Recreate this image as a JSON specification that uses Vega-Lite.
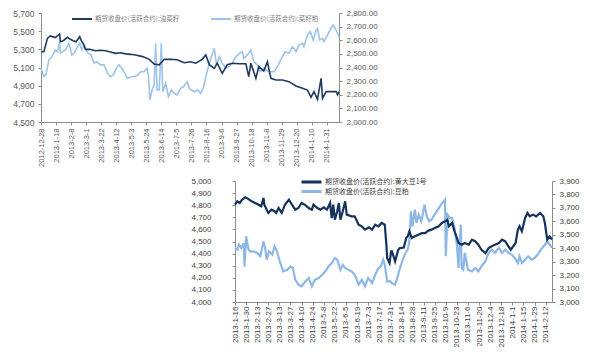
{
  "$schema": "https://vega.github.io/schema/vega-lite/v6.json",
  "background": "white",
  "padding": {"left": 12, "top": 9, "right": 5, "bottom": 5},
  "spacing": 10,
  "resolve": {"scale": {"color": "independent"}},
  "config": {
    "view": {"stroke": null},
    "axis": {
      "labelFont": "Liberation Sans",
      "labelFontSize": 8,
      "labelColor": "#595959",
      "domainColor": "#8c8c8c",
      "tickColor": "#8c8c8c",
      "tickSize": 3,
      "grid": false,
      "title": null
    },
    "legend": {
      "labelFont": "Noto Sans CJK SC",
      "labelColor": "#404040",
      "title": null
    }
  },
  "datasets": {
    "rs": [
      {"date": "2012-12-28", "price": 5274}, {"date": "2013-01-01", "price": 5274}, {"date": "2013-01-06", "price": 5421},
      {"date": "2013-01-10", "price": 5447}, {"date": "2013-01-13", "price": 5440}, {"date": "2013-01-17", "price": 5430},
      {"date": "2013-01-23", "price": 5469}, {"date": "2013-01-24", "price": 5384}, {"date": "2013-01-28", "price": 5395},
      {"date": "2013-02-03", "price": 5432}, {"date": "2013-02-07", "price": 5410}, {"date": "2013-02-11", "price": 5395},
      {"date": "2013-02-15", "price": 5384}, {"date": "2013-02-20", "price": 5439}, {"date": "2013-02-22", "price": 5400},
      {"date": "2013-02-26", "price": 5348}, {"date": "2013-02-28", "price": 5300}, {"date": "2013-03-06", "price": 5300},
      {"date": "2013-03-14", "price": 5285}, {"date": "2013-03-21", "price": 5290}, {"date": "2013-03-28", "price": 5285},
      {"date": "2013-04-04", "price": 5270}, {"date": "2013-04-11", "price": 5256}, {"date": "2013-04-18", "price": 5262},
      {"date": "2013-04-25", "price": 5250}, {"date": "2013-05-02", "price": 5245}, {"date": "2013-05-09", "price": 5238},
      {"date": "2013-05-19", "price": 5220}, {"date": "2013-05-28", "price": 5190}, {"date": "2013-06-04", "price": 5138},
      {"date": "2013-06-11", "price": 5130}, {"date": "2013-06-18", "price": 5190}, {"date": "2013-06-27", "price": 5190},
      {"date": "2013-07-06", "price": 5185}, {"date": "2013-07-16", "price": 5153}, {"date": "2013-07-25", "price": 5163},
      {"date": "2013-08-01", "price": 5147}, {"date": "2013-08-10", "price": 5190}, {"date": "2013-08-15", "price": 5238},
      {"date": "2013-08-20", "price": 5130}, {"date": "2013-08-27", "price": 5091}, {"date": "2013-08-31", "price": 5147},
      {"date": "2013-09-07", "price": 5036}, {"date": "2013-09-14", "price": 5130}, {"date": "2013-09-21", "price": 5147},
      {"date": "2013-10-01", "price": 5141}, {"date": "2013-10-10", "price": 5141}, {"date": "2013-10-14", "price": 4999},
      {"date": "2013-10-17", "price": 5147}, {"date": "2013-10-24", "price": 4981}, {"date": "2013-10-28", "price": 5110},
      {"date": "2013-11-04", "price": 5060}, {"date": "2013-11-09", "price": 5163}, {"date": "2013-11-14", "price": 4981},
      {"date": "2013-11-21", "price": 4962}, {"date": "2013-11-30", "price": 4962}, {"date": "2013-12-09", "price": 4944},
      {"date": "2013-12-19", "price": 4896}, {"date": "2013-12-28", "price": 4871}, {"date": "2014-01-04", "price": 4852},
      {"date": "2014-01-09", "price": 4772}, {"date": "2014-01-13", "price": 4834}, {"date": "2014-01-18", "price": 4750},
      {"date": "2014-01-23", "price": 4981}, {"date": "2014-01-25", "price": 4760}, {"date": "2014-01-30", "price": 4834},
      {"date": "2014-02-06", "price": 4834}, {"date": "2014-02-13", "price": 4834}, {"date": "2014-02-15", "price": 4800},
      {"date": "2014-02-17", "price": 4834}
    ],
    "rm": [
      {"date": "2012-12-28", "price": 2394}, {"date": "2013-01-01", "price": 2332}, {"date": "2013-01-04", "price": 2350},
      {"date": "2013-01-08", "price": 2455}, {"date": "2013-01-12", "price": 2479}, {"date": "2013-01-17", "price": 2528},
      {"date": "2013-01-20", "price": 2516}, {"date": "2013-01-23", "price": 2589}, {"date": "2013-01-24", "price": 2504},
      {"date": "2013-01-31", "price": 2528}, {"date": "2013-02-05", "price": 2577}, {"date": "2013-02-09", "price": 2492},
      {"date": "2013-02-12", "price": 2504}, {"date": "2013-02-17", "price": 2553}, {"date": "2013-02-20", "price": 2577},
      {"date": "2013-02-23", "price": 2528}, {"date": "2013-02-26", "price": 2565}, {"date": "2013-03-03", "price": 2509},
      {"date": "2013-03-08", "price": 2492}, {"date": "2013-03-12", "price": 2431}, {"date": "2013-03-16", "price": 2443},
      {"date": "2013-03-21", "price": 2419}, {"date": "2013-03-26", "price": 2419}, {"date": "2013-03-31", "price": 2357},
      {"date": "2013-04-04", "price": 2332}, {"date": "2013-04-08", "price": 2345}, {"date": "2013-04-12", "price": 2394},
      {"date": "2013-04-16", "price": 2419}, {"date": "2013-04-20", "price": 2394}, {"date": "2013-04-24", "price": 2357},
      {"date": "2013-04-28", "price": 2320}, {"date": "2013-05-03", "price": 2332}, {"date": "2013-05-07", "price": 2332},
      {"date": "2013-05-12", "price": 2345}, {"date": "2013-05-16", "price": 2369}, {"date": "2013-05-21", "price": 2369},
      {"date": "2013-05-25", "price": 2394}, {"date": "2013-05-27", "price": 2345}, {"date": "2013-05-29", "price": 2161},
      {"date": "2013-06-01", "price": 2235}, {"date": "2013-06-04", "price": 2272}, {"date": "2013-06-06", "price": 2578},
      {"date": "2013-06-08", "price": 2235}, {"date": "2013-06-11", "price": 2235}, {"date": "2013-06-14", "price": 2578},
      {"date": "2013-06-16", "price": 2222}, {"date": "2013-06-20", "price": 2284}, {"date": "2013-06-24", "price": 2186},
      {"date": "2013-06-28", "price": 2235}, {"date": "2013-07-02", "price": 2210}, {"date": "2013-07-06", "price": 2198},
      {"date": "2013-07-11", "price": 2247}, {"date": "2013-07-15", "price": 2259}, {"date": "2013-07-20", "price": 2296},
      {"date": "2013-07-23", "price": 2247}, {"date": "2013-07-26", "price": 2235}, {"date": "2013-07-30", "price": 2222},
      {"date": "2013-08-04", "price": 2235}, {"date": "2013-08-08", "price": 2210}, {"date": "2013-08-12", "price": 2259},
      {"date": "2013-08-15", "price": 2332}, {"date": "2013-08-20", "price": 2431}, {"date": "2013-08-23", "price": 2479},
      {"date": "2013-08-27", "price": 2541}, {"date": "2013-08-30", "price": 2419}, {"date": "2013-09-03", "price": 2479},
      {"date": "2013-09-07", "price": 2431}, {"date": "2013-09-12", "price": 2394}, {"date": "2013-09-16", "price": 2406},
      {"date": "2013-09-21", "price": 2431}, {"date": "2013-09-26", "price": 2479}, {"date": "2013-10-01", "price": 2504},
      {"date": "2013-10-05", "price": 2516}, {"date": "2013-10-07", "price": 2467}, {"date": "2013-10-12", "price": 2492},
      {"date": "2013-10-17", "price": 2528}, {"date": "2013-10-21", "price": 2443}, {"date": "2013-10-26", "price": 2419},
      {"date": "2013-10-30", "price": 2369}, {"date": "2013-11-04", "price": 2394}, {"date": "2013-11-11", "price": 2369},
      {"date": "2013-11-18", "price": 2369}, {"date": "2013-11-23", "price": 2406}, {"date": "2013-11-30", "price": 2479},
      {"date": "2013-12-04", "price": 2516}, {"date": "2013-12-09", "price": 2504}, {"date": "2013-12-14", "price": 2553},
      {"date": "2013-12-19", "price": 2516}, {"date": "2013-12-23", "price": 2565}, {"date": "2013-12-28", "price": 2577},
      {"date": "2013-12-30", "price": 2553}, {"date": "2014-01-04", "price": 2639}, {"date": "2014-01-08", "price": 2663},
      {"date": "2014-01-12", "price": 2602}, {"date": "2014-01-16", "price": 2675}, {"date": "2014-01-18", "price": 2688},
      {"date": "2014-01-21", "price": 2602}, {"date": "2014-01-25", "price": 2614}, {"date": "2014-01-27", "price": 2590},
      {"date": "2014-02-01", "price": 2639}, {"date": "2014-02-06", "price": 2688}, {"date": "2014-02-09", "price": 2712},
      {"date": "2014-02-13", "price": 2675}, {"date": "2014-02-17", "price": 2626}
    ],
    "a1": [
      {"date": "2013-01-16", "price": 4804}, {"date": "2013-01-19", "price": 4832}, {"date": "2013-01-22", "price": 4818},
      {"date": "2013-01-25", "price": 4846}, {"date": "2013-01-29", "price": 4865}, {"date": "2013-02-02", "price": 4850},
      {"date": "2013-02-06", "price": 4832}, {"date": "2013-02-13", "price": 4810}, {"date": "2013-02-18", "price": 4791},
      {"date": "2013-02-21", "price": 4860}, {"date": "2013-02-22", "price": 4804}, {"date": "2013-02-27", "price": 4736},
      {"date": "2013-03-03", "price": 4763}, {"date": "2013-03-07", "price": 4750}, {"date": "2013-03-09", "price": 4736},
      {"date": "2013-03-12", "price": 4777}, {"date": "2013-03-16", "price": 4736}, {"date": "2013-03-20", "price": 4804},
      {"date": "2013-03-25", "price": 4846}, {"date": "2013-03-29", "price": 4804}, {"date": "2013-04-02", "price": 4763},
      {"date": "2013-04-06", "price": 4777}, {"date": "2013-04-10", "price": 4818}, {"date": "2013-04-14", "price": 4804},
      {"date": "2013-04-19", "price": 4777}, {"date": "2013-04-23", "price": 4763}, {"date": "2013-04-25", "price": 4804},
      {"date": "2013-04-30", "price": 4777}, {"date": "2013-05-04", "price": 4763}, {"date": "2013-05-08", "price": 4782},
      {"date": "2013-05-12", "price": 4763}, {"date": "2013-05-16", "price": 4818}, {"date": "2013-05-18", "price": 4694},
      {"date": "2013-05-20", "price": 4804}, {"date": "2013-05-22", "price": 4680}, {"date": "2013-05-25", "price": 4750},
      {"date": "2013-05-27", "price": 4818}, {"date": "2013-05-29", "price": 4680}, {"date": "2013-06-01", "price": 4750},
      {"date": "2013-06-04", "price": 4832}, {"date": "2013-06-06", "price": 4722}, {"date": "2013-06-12", "price": 4708},
      {"date": "2013-06-16", "price": 4708}, {"date": "2013-06-21", "price": 4639}, {"date": "2013-06-25", "price": 4625},
      {"date": "2013-06-29", "price": 4598}, {"date": "2013-07-04", "price": 4618}, {"date": "2013-07-08", "price": 4598},
      {"date": "2013-07-12", "price": 4639}, {"date": "2013-07-16", "price": 4625}, {"date": "2013-07-20", "price": 4653},
      {"date": "2013-07-24", "price": 4639}, {"date": "2013-07-26", "price": 4474}, {"date": "2013-07-27", "price": 4364},
      {"date": "2013-07-30", "price": 4322}, {"date": "2013-08-01", "price": 4419}, {"date": "2013-08-02", "price": 4419},
      {"date": "2013-08-06", "price": 4336}, {"date": "2013-08-10", "price": 4432}, {"date": "2013-08-12", "price": 4446},
      {"date": "2013-08-17", "price": 4450}, {"date": "2013-08-20", "price": 4529}, {"date": "2013-08-22", "price": 4543},
      {"date": "2013-08-24", "price": 4584}, {"date": "2013-08-27", "price": 4529}, {"date": "2013-08-31", "price": 4543},
      {"date": "2013-09-05", "price": 4557}, {"date": "2013-09-09", "price": 4570}, {"date": "2013-09-13", "price": 4570},
      {"date": "2013-09-17", "price": 4590}, {"date": "2013-09-21", "price": 4598}, {"date": "2013-09-25", "price": 4612},
      {"date": "2013-09-30", "price": 4625}, {"date": "2013-10-04", "price": 4653}, {"date": "2013-10-08", "price": 4667},
      {"date": "2013-10-11", "price": 4680}, {"date": "2013-10-13", "price": 4625}, {"date": "2013-10-17", "price": 4653},
      {"date": "2013-10-20", "price": 4584}, {"date": "2013-10-23", "price": 4529}, {"date": "2013-10-25", "price": 4488},
      {"date": "2013-10-29", "price": 4474}, {"date": "2013-11-02", "price": 4488}, {"date": "2013-11-07", "price": 4474},
      {"date": "2013-11-11", "price": 4515}, {"date": "2013-11-15", "price": 4502}, {"date": "2013-11-19", "price": 4474},
      {"date": "2013-11-23", "price": 4432}, {"date": "2013-11-28", "price": 4405}, {"date": "2013-12-02", "price": 4446},
      {"date": "2013-12-06", "price": 4460}, {"date": "2013-12-10", "price": 4474}, {"date": "2013-12-15", "price": 4488},
      {"date": "2013-12-19", "price": 4515}, {"date": "2013-12-23", "price": 4502}, {"date": "2013-12-27", "price": 4460},
      {"date": "2013-12-30", "price": 4432}, {"date": "2014-01-02", "price": 4460}, {"date": "2014-01-05", "price": 4488},
      {"date": "2014-01-08", "price": 4598}, {"date": "2014-01-10", "price": 4625}, {"date": "2014-01-13", "price": 4584},
      {"date": "2014-01-17", "price": 4694}, {"date": "2014-01-20", "price": 4736}, {"date": "2014-01-23", "price": 4708},
      {"date": "2014-01-27", "price": 4722}, {"date": "2014-01-31", "price": 4708}, {"date": "2014-02-05", "price": 4736},
      {"date": "2014-02-09", "price": 4708}, {"date": "2014-02-11", "price": 4653}, {"date": "2014-02-14", "price": 4515},
      {"date": "2014-02-17", "price": 4543}, {"date": "2014-02-20", "price": 4515}
    ],
    "m": [
      {"date": "2013-01-16", "price": 3402}, {"date": "2013-01-19", "price": 3390}, {"date": "2013-01-21", "price": 3426},
      {"date": "2013-01-24", "price": 3402}, {"date": "2013-01-27", "price": 3438}, {"date": "2013-01-28", "price": 3265},
      {"date": "2013-01-30", "price": 3489}, {"date": "2013-02-02", "price": 3390}, {"date": "2013-02-04", "price": 3377},
      {"date": "2013-02-08", "price": 3377}, {"date": "2013-02-13", "price": 3365}, {"date": "2013-02-17", "price": 3340},
      {"date": "2013-02-21", "price": 3451}, {"date": "2013-02-23", "price": 3402}, {"date": "2013-02-25", "price": 3315},
      {"date": "2013-02-28", "price": 3377}, {"date": "2013-03-04", "price": 3353}, {"date": "2013-03-07", "price": 3414},
      {"date": "2013-03-10", "price": 3377}, {"date": "2013-03-14", "price": 3290}, {"date": "2013-03-18", "price": 3228},
      {"date": "2013-03-23", "price": 3240}, {"date": "2013-03-27", "price": 3265}, {"date": "2013-03-30", "price": 3253},
      {"date": "2013-04-02", "price": 3166}, {"date": "2013-04-06", "price": 3129}, {"date": "2013-04-10", "price": 3117},
      {"date": "2013-04-15", "price": 3154}, {"date": "2013-04-19", "price": 3179}, {"date": "2013-04-23", "price": 3117},
      {"date": "2013-04-27", "price": 3166}, {"date": "2013-05-02", "price": 3179}, {"date": "2013-05-06", "price": 3203},
      {"date": "2013-05-10", "price": 3228}, {"date": "2013-05-14", "price": 3265}, {"date": "2013-05-18", "price": 3290},
      {"date": "2013-05-22", "price": 3327}, {"date": "2013-05-25", "price": 3315}, {"date": "2013-05-29", "price": 3240},
      {"date": "2013-06-01", "price": 3277}, {"date": "2013-06-04", "price": 3253}, {"date": "2013-06-08", "price": 3240},
      {"date": "2013-06-12", "price": 3228}, {"date": "2013-06-16", "price": 3203}, {"date": "2013-06-21", "price": 3129},
      {"date": "2013-06-25", "price": 3166}, {"date": "2013-06-29", "price": 3117}, {"date": "2013-07-03", "price": 3179},
      {"date": "2013-07-08", "price": 3141}, {"date": "2013-07-12", "price": 3203}, {"date": "2013-07-16", "price": 3253},
      {"date": "2013-07-19", "price": 3265}, {"date": "2013-07-22", "price": 3315}, {"date": "2013-07-24", "price": 3277},
      {"date": "2013-07-27", "price": 3154}, {"date": "2013-07-31", "price": 3154}, {"date": "2013-08-02", "price": 3141},
      {"date": "2013-08-06", "price": 3129}, {"date": "2013-08-08", "price": 3166}, {"date": "2013-08-11", "price": 3228},
      {"date": "2013-08-15", "price": 3303}, {"date": "2013-08-19", "price": 3365}, {"date": "2013-08-22", "price": 3390},
      {"date": "2013-08-24", "price": 3451}, {"date": "2013-08-26", "price": 3675}, {"date": "2013-08-28", "price": 3563},
      {"date": "2013-08-31", "price": 3687}, {"date": "2013-09-02", "price": 3588}, {"date": "2013-09-05", "price": 3650},
      {"date": "2013-09-08", "price": 3600}, {"date": "2013-09-10", "price": 3650}, {"date": "2013-09-12", "price": 3724},
      {"date": "2013-09-15", "price": 3638}, {"date": "2013-09-18", "price": 3600}, {"date": "2013-09-21", "price": 3613},
      {"date": "2013-09-25", "price": 3650}, {"date": "2013-09-29", "price": 3687}, {"date": "2013-10-03", "price": 3724},
      {"date": "2013-10-07", "price": 3754}, {"date": "2013-10-08", "price": 3761}, {"date": "2013-10-09", "price": 3340},
      {"date": "2013-10-11", "price": 3650}, {"date": "2013-10-14", "price": 3625}, {"date": "2013-10-17", "price": 3625},
      {"date": "2013-10-20", "price": 3551}, {"date": "2013-10-23", "price": 3426}, {"date": "2013-10-25", "price": 3253},
      {"date": "2013-10-26", "price": 3390}, {"date": "2013-10-28", "price": 3575}, {"date": "2013-10-29", "price": 3253},
      {"date": "2013-10-31", "price": 3240}, {"date": "2013-11-02", "price": 3365}, {"date": "2013-11-06", "price": 3240},
      {"date": "2013-11-11", "price": 3228}, {"date": "2013-11-15", "price": 3253}, {"date": "2013-11-19", "price": 3228},
      {"date": "2013-11-23", "price": 3265}, {"date": "2013-11-28", "price": 3303}, {"date": "2013-12-02", "price": 3365},
      {"date": "2013-12-06", "price": 3390}, {"date": "2013-12-10", "price": 3365}, {"date": "2013-12-15", "price": 3402},
      {"date": "2013-12-19", "price": 3365}, {"date": "2013-12-23", "price": 3390}, {"date": "2013-12-27", "price": 3365},
      {"date": "2013-12-31", "price": 3353}, {"date": "2014-01-04", "price": 3327}, {"date": "2014-01-08", "price": 3290},
      {"date": "2014-01-10", "price": 3340}, {"date": "2014-01-13", "price": 3290}, {"date": "2014-01-17", "price": 3315},
      {"date": "2014-01-21", "price": 3340}, {"date": "2014-01-25", "price": 3315}, {"date": "2014-01-29", "price": 3327},
      {"date": "2014-02-02", "price": 3353}, {"date": "2014-02-06", "price": 3390}, {"date": "2014-02-11", "price": 3426},
      {"date": "2014-02-14", "price": 3451}, {"date": "2014-02-20", "price": 3402}
    ]
  },
  "vconcat": [
    {
      "width": 298,
      "height": 109,
      "resolve": {"scale": {"y": "independent"}},
      "encoding": {
        "x": {
          "field": "date",
          "type": "temporal",
          "scale": {"type": "utc", "domain": [{"year": 2012, "month": 12, "date": 28, "utc": true}, {"year": 2014, "month": 2, "date": 17, "utc": true}]},
          "axis": {
            "labelAngle": -90,
            "labelFontSize": 7.5,
            "labelPadding": 3,
            "labelFlush": false,
            "labelOverlap": false,
            "labelExpr": "utcFormat(datum.value, '%Y-%-m-%-d')",
            "values": [
              {"year": 2012, "month": 12, "date": 28, "utc": true}, {"year": 2013, "month": 1, "date": 18, "utc": true},
              {"year": 2013, "month": 2, "date": 8, "utc": true}, {"year": 2013, "month": 3, "date": 1, "utc": true},
              {"year": 2013, "month": 3, "date": 22, "utc": true}, {"year": 2013, "month": 4, "date": 12, "utc": true},
              {"year": 2013, "month": 5, "date": 3, "utc": true}, {"year": 2013, "month": 5, "date": 24, "utc": true},
              {"year": 2013, "month": 6, "date": 14, "utc": true}, {"year": 2013, "month": 7, "date": 5, "utc": true},
              {"year": 2013, "month": 7, "date": 26, "utc": true}, {"year": 2013, "month": 8, "date": 16, "utc": true},
              {"year": 2013, "month": 9, "date": 6, "utc": true}, {"year": 2013, "month": 9, "date": 27, "utc": true},
              {"year": 2013, "month": 10, "date": 18, "utc": true}, {"year": 2013, "month": 11, "date": 8, "utc": true},
              {"year": 2013, "month": 11, "date": 29, "utc": true}, {"year": 2013, "month": 12, "date": 20, "utc": true},
              {"year": 2014, "month": 1, "date": 10, "utc": true}, {"year": 2014, "month": 1, "date": 31, "utc": true}
            ]
          }
        }
      },
      "layer": [
        {
          "data": {"name": "rm"},
          "mark": {"type": "line", "strokeWidth": 1.6},
          "encoding": {
            "y": {
              "field": "price", "type": "quantitative",
              "scale": {"domain": [2000, 2800], "nice": false, "zero": false},
              "axis": {"orient": "right", "values": [2000, 2100, 2200, 2300, 2400, 2500, 2600, 2700, 2800], "format": ",.2f", "labelPadding": 4}
            },
            "color": {
              "datum": "期货收盘价(活跃合约):菜籽粕", "type": "nominal",
              "scale": {"domain": ["期货收盘价(活跃合约):油菜籽", "期货收盘价(活跃合约):菜籽粕"], "range": ["#1F3A60", "#9CC3EA"]},
              "legend": {
                "orient": "none", "legendX": 30, "legendY": 2, "direction": "horizontal",
                "symbolType": "stroke", "symbolSize": 400, "symbolStrokeWidth": 2, "clipHeight": 8,
                "labelFontSize": 6.5, "labelColor": "#7f7f7f", "labelOffset": 2, "columnPadding": 30, "labelLimit": 300
              }
            }
          }
        },
        {
          "data": {"name": "rs"},
          "mark": {"type": "line", "strokeWidth": 1.6},
          "encoding": {
            "y": {
              "field": "price", "type": "quantitative",
              "scale": {"domain": [4500, 5700], "nice": false, "zero": false},
              "axis": {"orient": "left", "values": [4500, 4700, 4900, 5100, 5300, 5500, 5700], "format": ",.0f", "labelFontSize": 8.5, "labelPadding": 4}
            },
            "color": {"datum": "期货收盘价(活跃合约):油菜籽", "type": "nominal"}
          }
        }
      ]
    },
    {
      "spacing": 20,
      "resolve": {"scale": {"color": "independent"}},
      "hconcat": [
        {"width": 129, "height": 10, "data": {"values": []}, "mark": "point"},
        {
          "width": 317,
          "height": 121,
          "resolve": {"scale": {"y": "independent"}},
          "encoding": {
            "x": {
              "field": "date",
              "type": "temporal",
              "scale": {"type": "utc", "domain": [{"year": 2013, "month": 1, "date": 16, "utc": true}, {"year": 2014, "month": 2, "date": 20, "utc": true}]},
              "axis": {
                "labelAngle": -90,
                "labelFontSize": 8,
                "labelPadding": 1,
                "labelFlush": false,
                "labelOverlap": false,
                "labelColor": "#404040",
                "labelExpr": "utcFormat(datum.value, '%Y-%-m-%-d')",
                "values": [
                  {"year": 2013, "month": 1, "date": 16, "utc": true}, {"year": 2013, "month": 1, "date": 30, "utc": true},
                  {"year": 2013, "month": 2, "date": 13, "utc": true}, {"year": 2013, "month": 2, "date": 27, "utc": true},
                  {"year": 2013, "month": 3, "date": 13, "utc": true}, {"year": 2013, "month": 3, "date": 27, "utc": true},
                  {"year": 2013, "month": 4, "date": 10, "utc": true}, {"year": 2013, "month": 4, "date": 24, "utc": true},
                  {"year": 2013, "month": 5, "date": 8, "utc": true}, {"year": 2013, "month": 5, "date": 22, "utc": true},
                  {"year": 2013, "month": 6, "date": 5, "utc": true}, {"year": 2013, "month": 6, "date": 19, "utc": true},
                  {"year": 2013, "month": 7, "date": 3, "utc": true}, {"year": 2013, "month": 7, "date": 17, "utc": true},
                  {"year": 2013, "month": 7, "date": 31, "utc": true}, {"year": 2013, "month": 8, "date": 14, "utc": true},
                  {"year": 2013, "month": 8, "date": 28, "utc": true}, {"year": 2013, "month": 9, "date": 11, "utc": true},
                  {"year": 2013, "month": 9, "date": 25, "utc": true}, {"year": 2013, "month": 10, "date": 9, "utc": true},
                  {"year": 2013, "month": 10, "date": 23, "utc": true}, {"year": 2013, "month": 11, "date": 6, "utc": true},
                  {"year": 2013, "month": 11, "date": 20, "utc": true}, {"year": 2013, "month": 12, "date": 4, "utc": true},
                  {"year": 2013, "month": 12, "date": 18, "utc": true}, {"year": 2014, "month": 1, "date": 1, "utc": true},
                  {"year": 2014, "month": 1, "date": 15, "utc": true}, {"year": 2014, "month": 1, "date": 29, "utc": true},
                  {"year": 2014, "month": 2, "date": 12, "utc": true}
                ]
              }
            }
          },
          "layer": [
            {
              "data": {"name": "m"},
              "mark": {"type": "line", "strokeWidth": 2.2},
              "encoding": {
                "y": {
                  "field": "price", "type": "quantitative",
                  "scale": {"domain": [3000, 3900], "nice": false, "zero": false},
                  "axis": {"orient": "right", "values": [3000, 3100, 3200, 3300, 3400, 3500, 3600, 3700, 3800, 3900], "format": ",.0f", "labelPadding": 4, "labelColor": "#404040"}
                },
                "color": {
                  "datum": "期货收盘价(活跃合约):豆粕", "type": "nominal",
                  "scale": {"domain": ["期货收盘价(活跃合约):黄大豆1号", "期货收盘价(活跃合约):豆粕"], "range": ["#14325C", "#8DB8E6"]},
                  "legend": {
                    "orient": "none", "legendX": 65, "legendY": -3, "direction": "vertical",
                    "symbolType": "stroke", "symbolSize": 400, "symbolStrokeWidth": 3, "clipHeight": 8, "rowPadding": 1.5,
                    "labelFontSize": 7, "labelColor": "#404040", "labelOffset": 2, "labelLimit": 300
                  }
                }
              }
            },
            {
              "data": {"name": "a1"},
              "mark": {"type": "line", "strokeWidth": 2.2},
              "encoding": {
                "y": {
                  "field": "price", "type": "quantitative",
                  "scale": {"domain": [4000, 5000], "nice": false, "zero": false},
                  "axis": {"orient": "left", "values": [4000, 4100, 4200, 4300, 4400, 4500, 4600, 4700, 4800, 4900, 5000], "format": ",.0f", "labelPadding": 21, "labelColor": "#404040"}
                },
                "color": {"datum": "期货收盘价(活跃合约):黄大豆1号", "type": "nominal"}
              }
            }
          ]
        }
      ]
    }
  ]
}
